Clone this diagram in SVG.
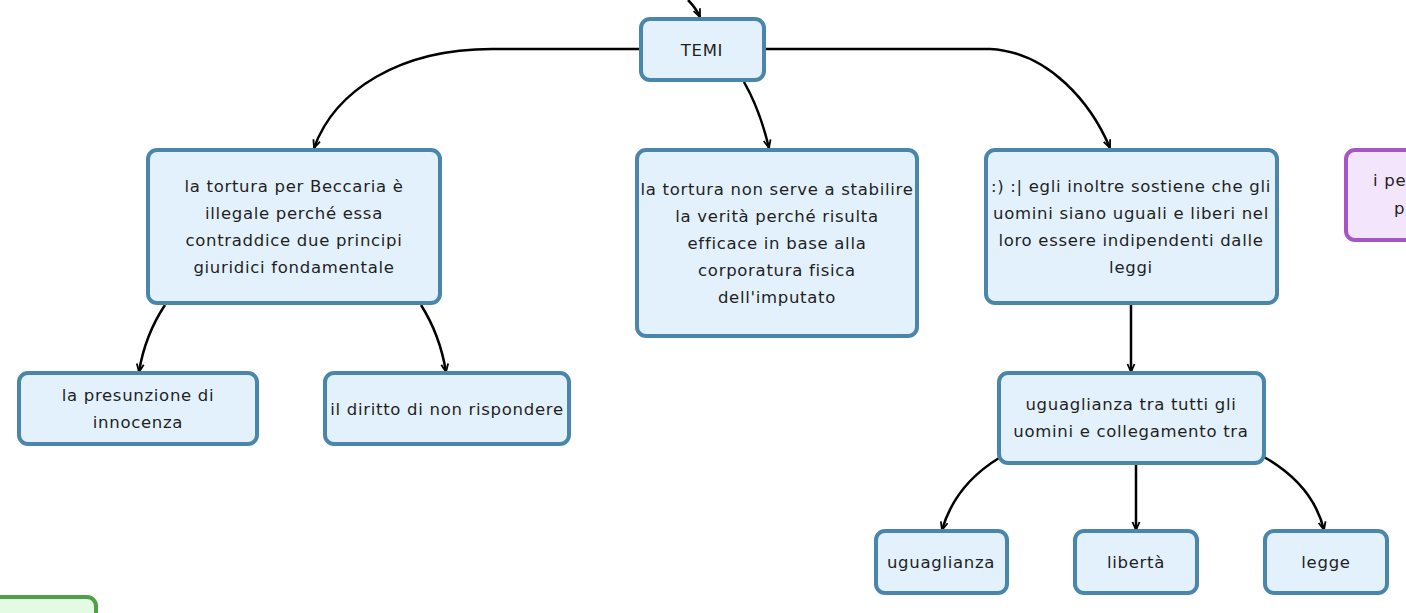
<svg xmlns="http://www.w3.org/2000/svg" width="1406" height="613" viewBox="0 0 1406 613">
<defs>
<marker id="arr" viewBox="0 0 10 10" refX="9" refY="5" markerWidth="10" markerHeight="10" orient="auto" markerUnits="userSpaceOnUse">
<path d="M1,1.5 L9,5 L1,8.5" fill="none" stroke="#000" stroke-width="1.8"/>
</marker>
<style>
.n rect{fill:#e3f1fc;stroke:#4a86ab;stroke-width:4}
.p rect{fill:#f3e5fb;stroke:#a556c6;stroke-width:4}
.g rect{fill:#e4fbe3;stroke:#4fa048;stroke-width:4}
text{font-family:"DejaVu Sans","Noto Sans",sans-serif;font-size:16.5px;letter-spacing:0.7px;fill:#1f1f1f;text-anchor:middle;dominant-baseline:central}
.c path{fill:none;stroke:#000;stroke-width:2.5;marker-end:url(#arr)}
</style>
</defs>
<rect width="1406" height="613" fill="#fff"/>
<g class="c" id="connectors">
<path d="M688,0 Q696,8 700,17"/>
<path d="M641,49 L492,49 C400,49 335,90 314,148"/>
<path d="M764,49 L990,49 C1050,52 1092,105 1110,148"/>
<path d="M744,82 Q760,110 769,148"/>
<path d="M165,305 Q145,335 139,372"/>
<path d="M421,305 Q440,335 446,372"/>
<path d="M1131,305 L1131,372"/>
<path d="M999,458 Q955,485 942,530"/>
<path d="M1136,464 L1136,530"/>
<path d="M1264,457 Q1313,485 1324,530"/>
</g>
<g id="temi" class="n"><rect x="641" y="19" width="123" height="61" rx="9"/><text x="702" y="50">TEMI</text></g>
<g id="beccaria" class="n"><rect x="148" y="150" width="292" height="153" rx="9"/>
<text x="294" y="186">la tortura per Beccaria è</text><text x="294" y="213">illegale perché essa</text><text x="294" y="240">contraddice due principi</text><text x="294" y="267">giuridici fondamentale</text></g>
<g id="verita" class="n"><rect x="637" y="150" width="280" height="186" rx="9"/>
<text x="777" y="189">la tortura non serve a stabilire</text><text x="777" y="216">la verità perché risulta</text><text x="777" y="243">efficace in base alla</text><text x="777" y="270">corporatura fisica</text><text x="777" y="297">dell'imputato</text></g>
<g id="uguali" class="n"><rect x="986" y="150" width="291" height="153" rx="9"/>
<text x="1131" y="186">:) :| egli inoltre sostiene che gli</text><text x="1131" y="213">uomini siano uguali e liberi nel</text><text x="1131" y="240">loro essere indipendenti dalle</text><text x="1131" y="267">leggi</text></g>
<g id="purple" class="p"><rect x="1346" y="150" width="80" height="90" rx="9"/>
<text x="1373" y="180" style="text-anchor:start">i pe</text><text x="1394" y="208" style="text-anchor:start">p</text></g>
<g id="presunzione" class="n"><rect x="19" y="373" width="238" height="71" rx="9"/>
<text x="138" y="395">la presunzione di</text><text x="138" y="422">innocenza</text></g>
<g id="diritto" class="n"><rect x="325" y="373" width="244" height="71" rx="9"/>
<text x="447" y="409">il diritto di non rispondere</text></g>
<g id="collegamento" class="n"><rect x="999" y="373" width="265" height="90" rx="9"/>
<text x="1131" y="404">uguaglianza tra tutti gli</text><text x="1131" y="431">uomini e collegamento tra</text></g>
<g id="uguaglianza" class="n"><rect x="876" y="531" width="131" height="62" rx="9"/><text x="941" y="562">uguaglianza</text></g>
<g id="liberta" class="n"><rect x="1075" y="531" width="122" height="62" rx="9"/><text x="1136" y="562">libertà</text></g>
<g id="legge" class="n"><rect x="1265" y="531" width="122" height="62" rx="9"/><text x="1326" y="562">legge</text></g>
<g id="green" class="g"><rect x="-20" y="597" width="116" height="40" rx="9"/></g>
</svg>
